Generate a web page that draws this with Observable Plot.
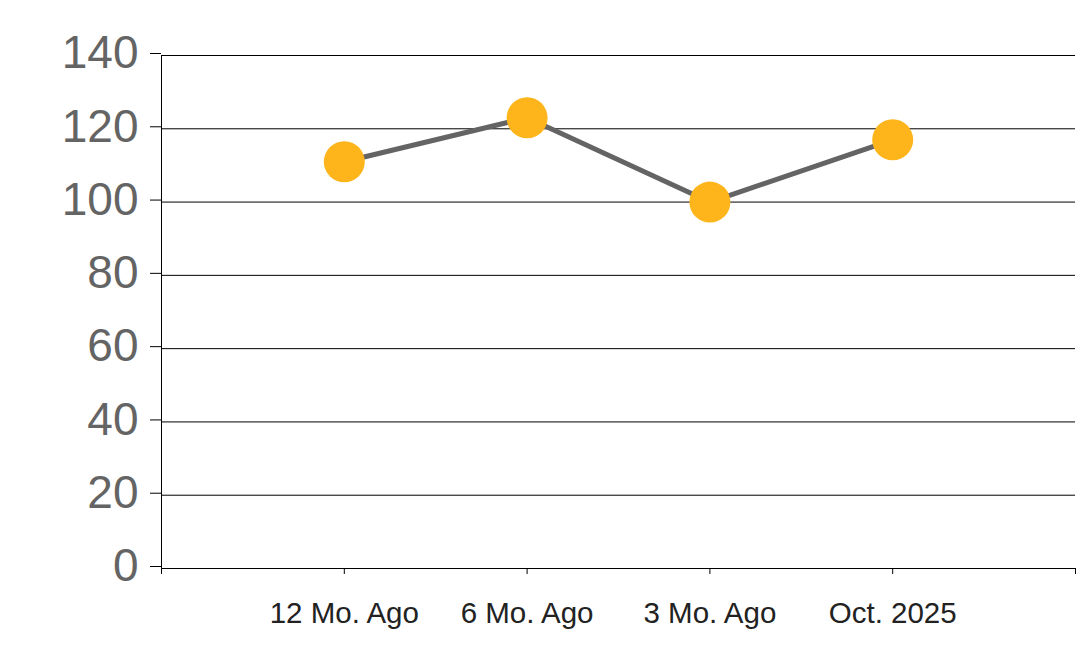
<!DOCTYPE html>
<html>
<head>
<meta charset="utf-8">
<script src="https://cdn.jsdelivr.net/npm/d3@7"></script>
<script src="https://cdn.jsdelivr.net/npm/@observablehq/plot@0.6"></script>
<style>
  html, body { margin: 0; padding: 0; background: #fff; }
  svg { display: block; }
</style>
</head>
<body>
<div id="chart"></div>
<script>
const categories = ["12 Mo. Ago", "6 Mo. Ago", "3 Mo. Ago", "Oct. 2025"];
const values = [111, 123, 100, 117];
const yTicks = [0, 20, 40, 60, 80, 100, 120, 140];
const xTickPositions = [0, 1, 2, 3, 4, 5];

const data = categories.map((c, i) => ({pos: i + 1, label: c, value: values[i]}));

const chart = Plot.plot({
  width: 1078,
  height: 663,
  marginLeft: 161,
  marginRight: 3,
  marginTop: 55,
  marginBottom: 95,
  style: {fontFamily: "'Liberation Sans', Arial, sans-serif", background: "#fff"},
  x: {domain: [0, 5]},
  y: {domain: [0, 140]},
  marks: [
    Plot.gridY(yTicks, {stroke: "#000", strokeOpacity: 1, strokeWidth: 1}),
    Plot.axisY(yTicks, {tickSize: 11, tickPadding: 12, fontSize: 46, fill: "#646464", stroke: "#000", label: null, dy: -2}),
    Plot.axisX(xTickPositions, {
      tickSize: 6, tickPadding: 28, fontSize: 29.5, fill: "#222", stroke: "#000", label: null,
      tickFormat: (d) => categories[d - 1] ?? ""
    }),
    Plot.ruleX([0], {stroke: "#000", strokeWidth: 1}),
    Plot.ruleY([0], {stroke: "#000", strokeWidth: 1}),
    Plot.line(data, {x: "pos", y: "value", stroke: "#646464", strokeWidth: 5}),
    Plot.dot(data, {x: "pos", y: "value", r: 20.5, fill: "#FDB51B", stroke: "none"})
  ]
});
document.getElementById("chart").appendChild(chart);
</script>
</body>
</html>
